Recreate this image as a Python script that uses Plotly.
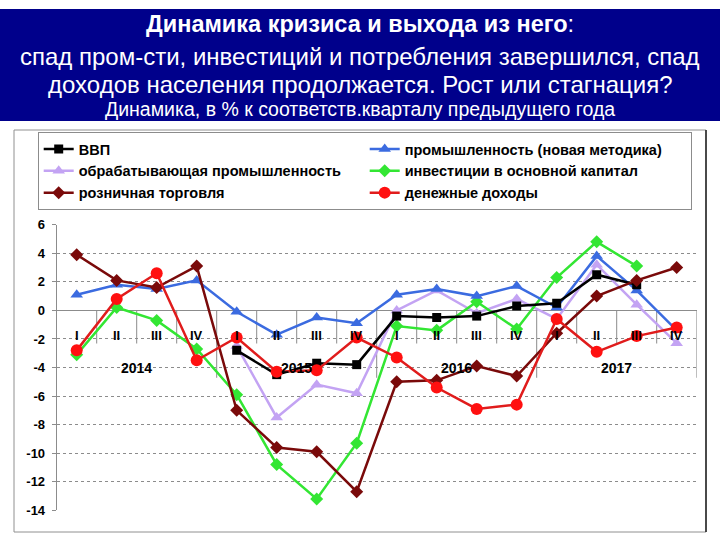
import plotly.graph_objects as go

# ---------------- data ----------------
years = ["2014", "2015", "2016", "2017"]
quarters = ["I", "II", "III", "IV"]
categories = [f"{y} {q}" for y in years for q in quarters]

gdp = [None, None, None, None, -2.8, -4.5, -3.7, -3.8, -0.4, -0.5, -0.4, 0.3, 0.5, 2.5, 1.8, None]
industry_new = [1.1, 1.8, 1.5, 2.1, -0.1, -1.7, -0.5, -0.9, 1.1, 1.5, 1.0, 1.7, 0.2, 3.8, 1.4, -1.4]
manufacturing = [None, None, None, None, -2.5, -7.5, -5.2, -5.8, 0.0, 1.4, -0.2, 0.8, -0.6, 3.2, 0.4, -2.3]
investment = [-3.1, 0.2, -0.7, -2.7, -5.9, -10.8, -13.2, -9.3, -1.1, -1.4, 0.6, -1.3, 2.3, 4.8, 3.1, None]
retail = [3.9, 2.1, 1.6, 3.1, -7.0, -9.6, -9.9, -12.7, -5.0, -4.9, -3.9, -4.6, -1.6, 1.0, 2.1, 3.0]
income = [-2.8, 0.8, 2.6, -3.5, -1.9, -4.3, -4.2, -1.9, -3.3, -5.4, -6.9, -6.6, -0.6, -2.9, -1.8, -1.2]

y_tick_vals = [6, 4, 2, 0, -2, -4, -6, -8, -10, -12, -14]
y_tick_text = ["6", "4", "2", "0", "-2", "-4", "-6", "-8", "-10", "-12", "-14"]

title_line1 = "Динамика кризиса и выхода из него"
title_line2 = "спад пром-сти, инвестиций и потребления завершился, спад"
title_line3 = "доходов населения продолжается. Рост или стагнация?"
title_line4 = "Динамика, в % к соответств.кварталу предыдущего года"

xs = list(range(len(categories)))

FONT = "Liberation Sans, Arial, sans-serif"

series = [
    # name, data, color(line), marker symbol, marker size, marker color, legend rank
    ("обрабатывающая промышленность", manufacturing, "#C3A3F3", "triangle-up", 11, "#C3A3F3", 3),
    ("инвестиции в основной капитал", investment, "#33E633", "diamond", 10, "#33E633", 4),
    ("промышленность (новая методика)", industry_new, "#3B6BE0", "triangle-up", 11, "#3B6BE0", 2),
    ("ВВП", gdp, "#000000", "square", 9, "#000000", 1),
    ("розничная торговля", retail, "#7A0A0A", "diamond", 10, "#7A0A0A", 5),
    ("денежные доходы", income, "#E01C1C", "circle", 12, "#FF1010", 6),
]

fig = go.Figure()
for name, data, col, sym, size, mcol, rank in series:
    fig.add_trace(go.Scatter(
        x=xs, y=data, name=name, mode="lines+markers",
        line=dict(color=col, width=2.5),
        marker=dict(symbol=sym, size=size, color=mcol, line=dict(width=0)),
        legendrank=rank, connectgaps=False,
    ))

shapes = []
# banner
shapes.append(dict(type="rect", xref="paper", yref="paper", x0=0, x1=1,
                   y0=1 - 121 / 540, y1=1 - 9 / 540, fillcolor="#00008B", line=dict(width=0), layer="below"))
# outer chart frame
shapes.append(dict(type="rect", xref="paper", yref="paper", x0=14 / 720, x1=706 / 720,
                   y0=1 - 532 / 540, y1=1 - 130 / 540, line=dict(color="#909090", width=1), layer="below"))
shapes.append(dict(type="line", xref="paper", yref="paper", x0=706 / 720, x1=706 / 720,
                   y0=1 - 532 / 540, y1=1 - 130 / 540, line=dict(color="#202020", width=1.5), layer="below"))
# category dividers on the zero line
for i in range(len(categories)):
    boundary = (i + 1) % len(quarters) == 0
    shapes.append(dict(type="line", xref="x", yref="y", x0=i + 0.5, x1=i + 0.5,
                       y0=0, y1=-4.72 if boundary else -2.32,
                       line=dict(color="#8C8C8C", width=1), layer="below"))
fig.update_layout(shapes=shapes)

annotations = []
for i, c in enumerate(categories):
    annotations.append(dict(x=i, y=-1.76, xref="x", yref="y", text=c.split(" ")[1], showarrow=False,
                            font=dict(family=FONT, size=13, color="black", weight="bold")))
for k, yr in enumerate(years):
    annotations.append(dict(x=k * 4 + 1.5, y=-4.0, xref="x", yref="y", text=yr, showarrow=False,
                            font=dict(family=FONT, size=14, color="black", weight="bold")))
title_specs = [
    (f"<b>{title_line1}</b>:", 24, 23.5),
    (title_line2, 57, 24),
    (title_line3, 84, 24),
    (title_line4, 109, 19.5),
]
for text, ypix, size in title_specs:
    annotations.append(dict(x=0.5, y=1 - ypix / 540, xref="paper", yref="paper", text=text,
                            showarrow=False, xanchor="center", yanchor="middle",
                            font=dict(family=FONT, size=size, color="white")))
fig.update_layout(annotations=annotations)

fig.update_layout(
    width=720, height=540,
    margin=dict(l=0, r=0, t=0, b=0, pad=0, autoexpand=False),
    paper_bgcolor="white", plot_bgcolor="white",
    font=dict(family=FONT, color="black"),
    xaxis=dict(domain=[56.7 / 720, 696.7 / 720], range=[-0.5, 15.5], showticklabels=False,
               showgrid=False, zeroline=False, showline=False, ticks="", automargin=False),
    yaxis=dict(domain=[(540 - 510.3) / 540, (540 - 224.7) / 540], range=[-14, 6],
               tickvals=y_tick_vals, ticktext=y_tick_text, automargin=False,
               tickfont=dict(family=FONT, size=13, color="black", weight="bold"),
               ticklabelstandoff=4,
               showgrid=True, gridcolor="#8C8C8C", griddash="dot", gridwidth=1,
               zeroline=True, zerolinecolor="#8C8C8C", zerolinewidth=1,
               showline=True, linecolor="#8C8C8C", linewidth=1,
               ticks="outside", ticklen=4, tickcolor="#8C8C8C"),
    legend=dict(orientation="h", x=37.7 / 720, y=1 - 132 / 540, xanchor="left", yanchor="top",
                entrywidth=281, entrywidthmode="pixels",
                bgcolor="white", bordercolor="#8C8C8C", borderwidth=1,
                font=dict(family=FONT, size=14.5, color="black", weight="bold"),
                tracegroupgap=0, itemwidth=30),
    showlegend=True,
)

fig.write_html("out.html")
